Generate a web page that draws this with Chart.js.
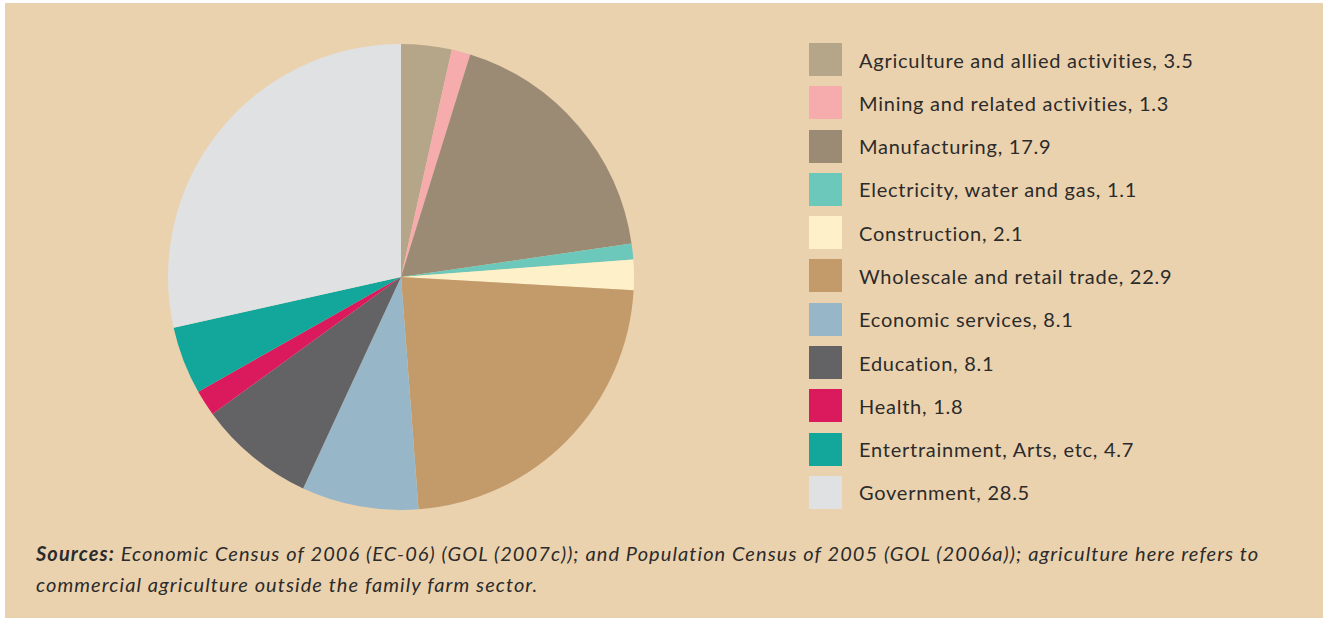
<!DOCTYPE html>
<html>
<head>
<meta charset="utf-8">
<script src="https://cdn.jsdelivr.net/npm/chart.js@4/dist/chart.umd.min.js"></script>
<style>
    html, body { margin: 0; padding: 0; background: #fff; }
    body { width: 1323px; height: 618px; position: relative; overflow: hidden; font-family: Lato, "Open Sans", sans-serif; }
    .panel { position: absolute; left: 5px; top: 3px; right: 0; bottom: 0; background: #ebd2ae; }
    #pieWrap { position: absolute; left: 168px; top: 44px; width: 466px; height: 466px; }
    #legend { position: absolute; left: 809px; top: 43px; margin: 0; padding: 0; list-style: none; }
    #legend li { height: 33px; margin-bottom: 10.3px; display: flex; align-items: center; }
    #legend .box { width: 33px; height: 33px; margin-right: 17px; flex: none; }
    #legend .txt { font-size: 20px; color: #2b2b2b; white-space: nowrap; letter-spacing: 0.75px; }
    .source { position: absolute; left: 36px; top: 538px; white-space: nowrap; font-size: 20px; line-height: 31px; color: #2b2b2b; font-style: italic; letter-spacing: 1.08px; }
    .source b { font-weight: 700; }
</style>
</head>
<body>
<div class="panel"></div>
<div id="pieWrap"><canvas id="sectorChart" width="466" height="466"></canvas></div>
<ul id="legend"></ul>
<div class="source"><b>Sources:</b> Economic Census of 2006 (EC-06) (GOL (2007c)); and Population Census of 2005 (GOL (2006a)); agriculture here refers to<br>commercial agriculture outside the family farm sector.</div>

<script>
const sectors = [
    'Agriculture and allied activities',
    'Mining and related activities',
    'Manufacturing',
    'Electricity, water and gas',
    'Construction',
    'Wholescale and retail trade',
    'Economic services',
    'Education',
    'Health',
    'Entertrainment, Arts, etc',
    'Government'
];
const shares = [3.5, 1.3, 17.9, 1.1, 2.1, 22.9, 8.1, 8.1, 1.8, 4.7, 28.5];
const sectorColors = [
    '#b5a68a', '#f6acad', '#9c8b74', '#6bc8ba', '#fef1c9', '#c39b6b',
    '#97b7c9', '#636366', '#da1a5c', '#12a79a', '#e0e1e3'
];

document.addEventListener('DOMContentLoaded', () => {
    const ctx = document.getElementById('sectorChart').getContext('2d');

    new Chart(ctx, {
        type: 'pie',
        data: {
            labels: sectors,
            datasets: [{
                data: shares,
                backgroundColor: sectorColors,
                borderWidth: 0
            }]
        },
        options: {
            responsive: false,
            animation: false,
            layout: { padding: 0 },
            plugins: {
                legend: { display: false },
                tooltip: { enabled: false }
            }
        }
    });

    // legend list built from the same arrays
    const legend = document.getElementById('legend');
    sectors.forEach((name, i) => {
        const li = document.createElement('li');
        li.innerHTML = `<span class="box" style="background:${sectorColors[i]}"></span><span class="txt">${name}, ${shares[i].toFixed(1)}</span>`;
        legend.appendChild(li);
    });
});
</script>
</body>
</html>
